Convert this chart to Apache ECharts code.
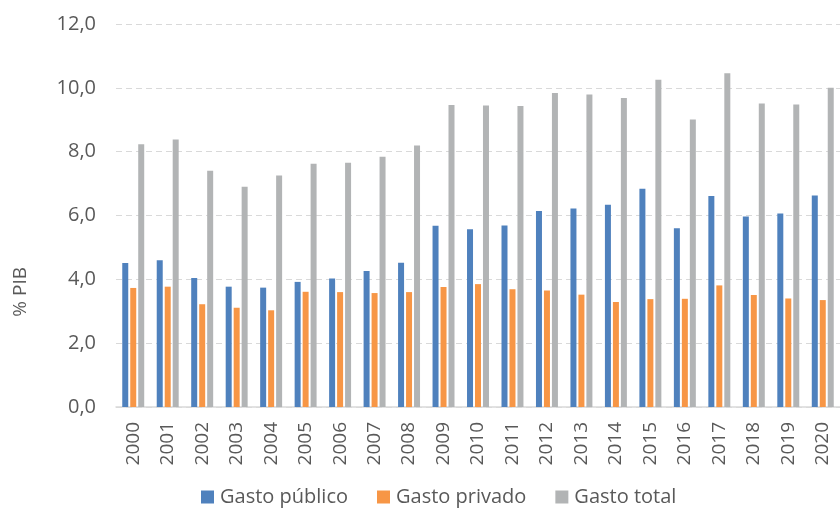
<!doctype html>
<html>

<head>
    <meta charset="utf-8">
    <title>Gasto % PIB</title>
    <style>
        html, body {
            margin: 0;
            padding: 0;
            background: #fff;
        }

        #chart {
            width: 840px;
            height: 515px;
        }
    </style>
</head>

<body>
    <div id="chart"></div>
    <script src="https://cdn.jsdelivr.net/npm/echarts@6/dist/echarts.min.js"></script>
    <script>
        var years = ['2000', '2001', '2002', '2003', '2004', '2005', '2006', '2007', '2008', '2009', '2010',
            '2011', '2012', '2013', '2014', '2015', '2016', '2017', '2018', '2019', '2020'];
        var gastoPublico = [4.51, 4.60, 4.04, 3.77, 3.74, 3.92, 4.03, 4.26, 4.52, 5.68, 5.57,
            5.69, 6.14, 6.22, 6.34, 6.84, 5.60, 6.61, 5.97, 6.06, 6.63];
        var gastoPrivado = [3.73, 3.77, 3.22, 3.11, 3.03, 3.61, 3.60, 3.57, 3.60, 3.76, 3.85,
            3.69, 3.65, 3.52, 3.29, 3.38, 3.39, 3.81, 3.51, 3.40, 3.35];
        var gastoTotal = [8.23, 8.38, 7.40, 6.90, 7.25, 7.62, 7.65, 7.84, 8.19, 9.46, 9.45,
            9.43, 9.84, 9.79, 9.68, 10.25, 9.01, 10.46, 9.51, 9.48, 10.00];

        var font = "'Open Sans', 'Noto Sans', sans-serif";
        var textColor = '#595959';

        var myChart = echarts.init(document.getElementById('chart'));
        var option = {
            animation: false,
            textStyle: { fontFamily: font },
            grid: {
                left: 116,
                top: 24,
                width: 732,
                height: 383
            },
            legend: {
                bottom: 3,
                left: 196,
                itemWidth: 13,
                itemHeight: 13,
                itemGap: 29,
                icon: 'rect',
                textStyle: { fontFamily: font, fontSize: 20, color: textColor, padding: [0, 0, 0, 1] },
                data: ['Gasto público', 'Gasto privado', 'Gasto total']
            },
            graphic: [{
                type: 'text',
                left: 11,
                top: 267,
                rotation: Math.PI / 2,
                style: {
                    text: '% PIB',
                    font: '19px ' + font,
                    fill: textColor
                }
            }],
            xAxis: {
                type: 'category',
                data: years,
                axisTick: { show: false },
                axisLine: { lineStyle: { color: '#d9d9d9', width: 1.5 } },
                axisLabel: {
                    rotate: 90,
                    margin: 15,
                    fontSize: 19,
                    color: textColor,
                    fontFamily: font
                }
            },
            yAxis: {
                type: 'value',
                min: 0,
                max: 12,
                interval: 2,
                axisLine: { show: false },
                axisTick: { show: false },
                splitLine: { lineStyle: { color: '#d9d9d9', type: [6, 4] } },
                axisLabel: {
                    margin: 20,
                    fontSize: 20,
                    color: textColor,
                    fontFamily: font,
                    formatter: function (v) { return v.toFixed(1).replace('.', ','); }
                }
            },
            series: [
                {
                    name: 'Gasto público',
                    type: 'bar',
                    barWidth: 6,
                    barGap: '33%',
                    itemStyle: { color: '#4f81bd' },
                    data: gastoPublico
                },
                {
                    name: 'Gasto privado',
                    type: 'bar',
                    barWidth: 6,
                    barGap: '33%',
                    itemStyle: { color: '#f79646' },
                    data: gastoPrivado
                },
                {
                    name: 'Gasto total',
                    type: 'bar',
                    barWidth: 6,
                    barGap: '33%',
                    itemStyle: { color: '#b2b4b5' },
                    data: gastoTotal
                }
            ]
        };
        myChart.setOption(option);
    </script>
</body>

</html>
